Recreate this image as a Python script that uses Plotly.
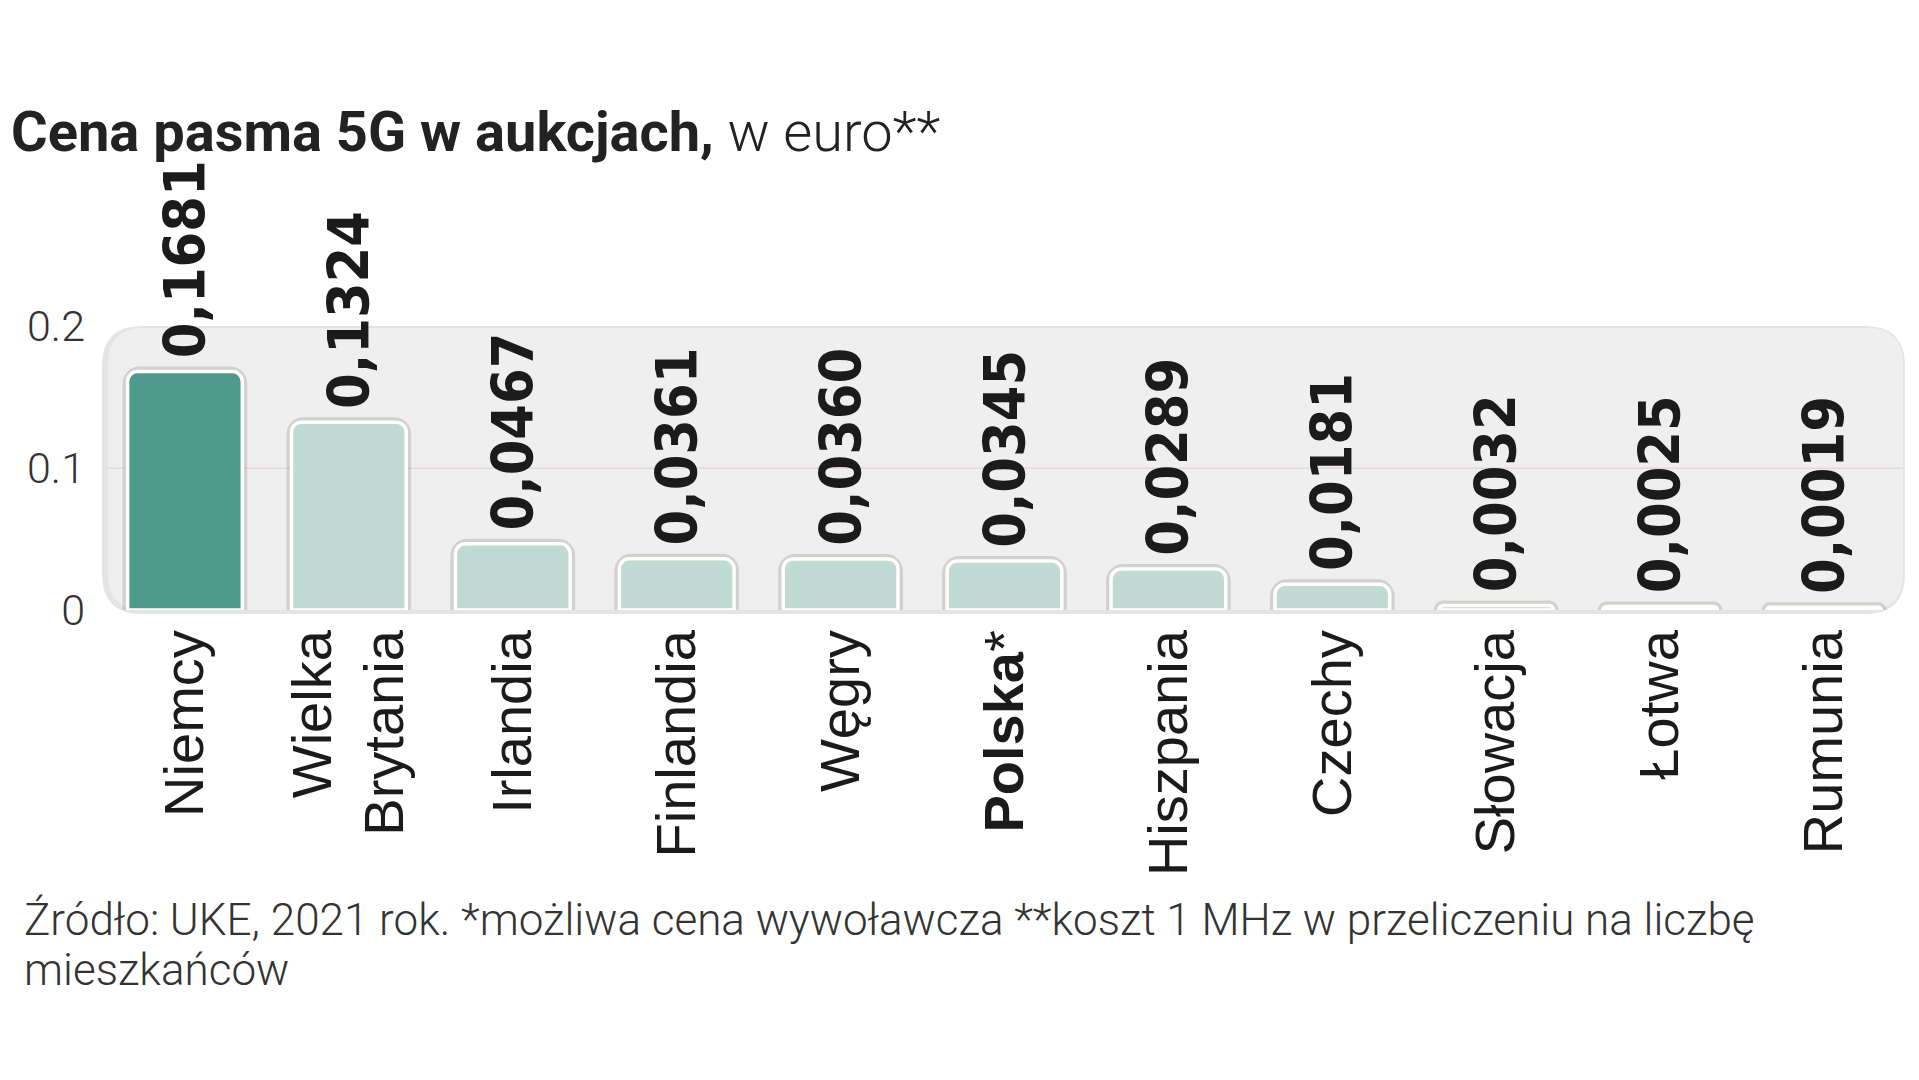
import plotly.graph_objects as go

# ---- data ----
countries = ["Niemcy", "Wielka Brytania", "Irlandia", "Finlandia", "Węgry", "Polska",
             "Hiszpania", "Czechy", "Słowacja", "Łotwa", "Rumunia"]
tick_labels = ["Niemcy", "Wielka<br>Brytania", "Irlandia", "Finlandia", "Węgry", "<b>Polska</b>*",
               "Hiszpania", "Czechy", "Słowacja", "Łotwa", "Rumunia"]
prices = [0.1681, 0.1324, 0.0467, 0.0361, 0.0360, 0.0345, 0.0289, 0.0181, 0.0032, 0.0025, 0.0019]
y_tick_vals = [0, 0.1, 0.2]
y_tick_text = ["0", "0.1", "0.2"]
highlight = "Niemcy"

title_bold = "Cena pasma 5G w aukcjach,"
title_light = " w euro**"
footer_line1 = "Źródło: UKE, 2021 rok. *możliwa cena wywoławcza **koszt 1 MHz w przeliczeniu na liczbę"
footer_line2 = "mieszkańców"

# ---- layout geometry (page pixels; the page body adds an 8px offset) ----
W, H = 1919, 1080
OFF = 8
PLOT_L, PLOT_R, PLOT_B, PLOT_T = 103, 1906, 610, 156   # page coords
ML = PLOT_L - OFF
MR = W - (PLOT_R - OFF)
MB = H - (PLOT_B - OFF)
MT = PLOT_T - OFF
PW = PLOT_R - PLOT_L
PH = PLOT_B - PLOT_T

def px_x(x):
    return (x - PLOT_L) / PW

def px_y(y):
    return (PLOT_B - y) / PH

DARK = "#4f9a8c"
LIGHT = "#bfdbd3"
colors = [DARK if c == highlight else LIGHT for c in countries]
labels = ["\u2009" + f"{v:.4f}".replace(".", ",") for v in prices]

COND = "DejaVu Sans Condensed, DejaVu Sans, sans-serif"

fig = go.Figure()
# soft halo (shadow) under bars
fig.add_trace(go.Bar(
    x=countries, y=prices, width=0.70,
    marker=dict(color="rgba(0,0,0,0)", line=dict(color="rgba(90,90,90,0.20)", width=10),
                cornerradius=12),
    hoverinfo="skip", showlegend=False,
))
fig.add_trace(go.Bar(
    x=countries, y=prices, width=0.70,
    marker=dict(color=colors, line=dict(color="#fffef8", width=3.5), cornerradius=10),
    text=labels, textposition="outside", textangle=-90, constraintext="none",
    cliponaxis=False,
    textfont=dict(family=COND, size=57, weight="bold", color="#1b1b1b"),
    showlegend=False,
))

def rounded_rect(x0, y0, x1, y1, rpx):
    rx = rpx / PW
    ry = rpx / PH
    return (f"M {x0+rx},{y0} L {x1-rx},{y0} Q {x1},{y0} {x1},{y0+ry} "
            f"L {x1},{y1-ry} Q {x1},{y1} {x1-rx},{y1} L {x0+rx},{y1} "
            f"Q {x0},{y1} {x0},{y1-ry} L {x0},{y0+ry} Q {x0},{y0} {x0+rx},{y0} Z")

shapes = [
    dict(type="path", xref="paper", yref="paper", layer="below",
         path=rounded_rect(px_x(102), px_y(614), px_x(1905), px_y(326), 40),
         fillcolor="#e4e4e4", line=dict(width=0)),
    dict(type="path", xref="paper", yref="paper", layer="below",
         path=rounded_rect(px_x(108), px_y(610), px_x(1903), px_y(328), 36),
         fillcolor="#efefef", line=dict(width=0)),
    dict(type="line", xref="paper", yref="y", layer="below",
         x0=px_x(106), x1=px_x(1903), y0=0.1, y1=0.1,
         line=dict(color="#e3d9d9", width=1.5)),
]

footer_font = dict(family="Roboto, sans-serif", size=44, weight=300, color="#333333")

fig.update_layout(
    width=W, height=H,
    margin=dict(l=ML, r=MR, t=MT, b=MB, pad=0),
    paper_bgcolor="white", plot_bgcolor="rgba(0,0,0,0)",
    barmode="overlay",
    shapes=shapes,
    title=dict(
        text=f"<b>{title_bold}</b><span style='font-weight:300'>{title_light}</span>",
        font=dict(family="Roboto, sans-serif", size=56, color="#222222"),
        x=3 / W, xref="container", xanchor="left",
        y=1 - 123 / H, yref="container", yanchor="middle",
    ),
    xaxis=dict(
        range=[-0.5, 10.5], showgrid=False, showline=False, zeroline=False,
        ticks="", tickangle=-90, tickmode="array", tickvals=countries, ticktext=tick_labels,
        tickfont=dict(family="Liberation Sans, Arial, sans-serif", size=56, color="#1b1b1b"),
        ticklabelstandoff=8,
    ),
    yaxis=dict(
        range=[0, 0.32], showgrid=False, showline=False, zeroline=False,
        ticks="", tickmode="array", tickvals=y_tick_vals, ticktext=y_tick_text,
        tickfont=dict(family="Roboto, sans-serif", size=43, weight=300, color="#333333"),
        ticklabelstandoff=17,
    ),
    annotations=[
        dict(text=footer_line1, xref="paper", yref="paper",
             x=px_x(22), y=px_y(920), xanchor="left", yanchor="middle", align="left",
             showarrow=False, font=footer_font),
        dict(text=footer_line2, xref="paper", yref="paper",
             x=px_x(22), y=px_y(970), xanchor="left", yanchor="middle", align="left",
             showarrow=False, font=footer_font),
    ],
)

fig.write_html("out.html")
